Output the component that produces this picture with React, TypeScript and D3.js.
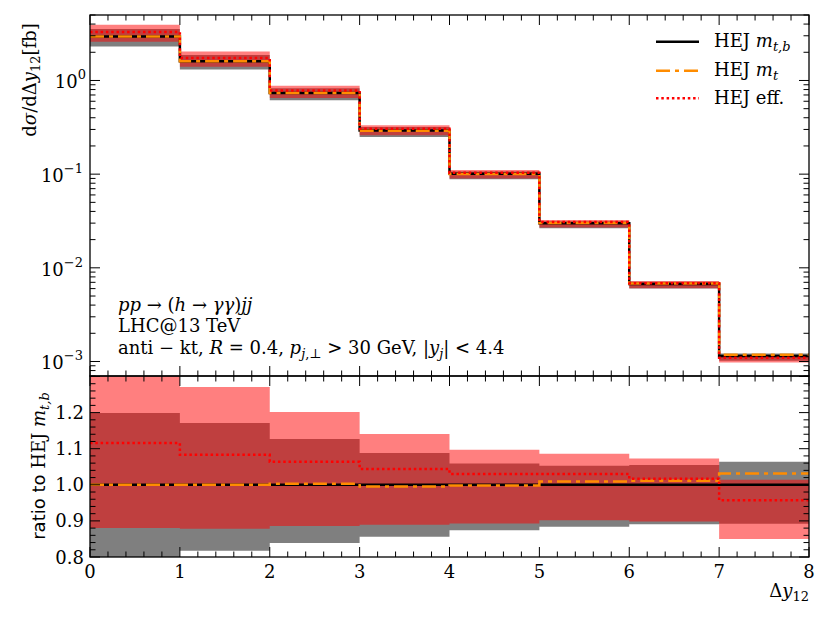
import React from 'react';
import * as d3 from 'd3';

// ---- data ----
const binEdges = [0, 1, 2, 3, 4, 5, 6, 7, 8];
const xTickValues = [0, 1, 2, 3, 4, 5, 6, 7, 8];
const xTickLabels = ['0', '1', '2', '3', '4', '5', '6', '7', '8'];
// HEJ m_{t,b} central values (fb)
const mtbValues = [2.95, 1.6, 0.733, 0.292, 0.1007, 0.0299, 0.00673, 0.001145];
// ratios to HEJ m_{t,b}
const mtRatio = [1.0, 1.0, 1.003, 0.995, 0.998, 1.009, 1.011, 1.031];
const effRatio = [1.116, 1.083, 1.064, 1.044, 1.03, 1.03, 1.017, 0.957];
const mtbBandLow = [0.78, 0.817, 0.839, 0.856, 0.874, 0.884, 0.891, 0.892];
const mtbBandHigh = [1.199, 1.171, 1.127, 1.088, 1.059, 1.053, 1.055, 1.064];
const effBandLow = [0.88, 0.878, 0.886, 0.889, 0.893, 0.902, 0.898, 0.85];
const effBandHigh = [1.33, 1.271, 1.202, 1.141, 1.097, 1.086, 1.073, 1.014];
const ratioTickValues = [0.8, 0.9, 1.0, 1.1, 1.2];
const ratioTickLabels = ['0.8', '0.9', '1.0', '1.1', '1.2'];
const logTickExponents = [0, -1, -2, -3];
const legendLabels = ['HEJ', 'HEJ', 'HEJ eff.'];

const SERIF = "'DejaVu Serif', 'Liberation Serif', serif";
const SANS = "'DejaVu Sans', sans-serif";

export default function App() {
  const W = 830, H = 623;
  const L = 90, R = 809;
  const topY0 = 15, topY1 = 376;
  const botY0 = 376, botY1 = 557;

  const x = d3.scaleLinear().domain([0, 8]).range([L, R]);
  const yTop = d3.scaleLog().domain([7e-4, 5]).range([topY1, topY0]);
  const yBot = d3.scaleLinear().domain([0.8, 1.3]).range([botY1, botY0 + 0.5]);

  const n = mtbValues.length;
  const pts = (vals: number[]) => binEdges.map((e, i) => ({ x: e, v: vals[Math.min(i, n - 1)] }));

  const lineTop = d3.line<{ x: number; v: number }>().x(d => x(d.x)).y(d => yTop(d.v)).curve(d3.curveStepAfter);
  const lineBot = d3.line<{ x: number; v: number }>().x(d => x(d.x)).y(d => yBot(d.v)).curve(d3.curveStepAfter);
  type BP = { x: number; lo: number; hi: number };
  const bandPts = (lo: number[], hi: number[]): BP[] => binEdges.map((e, i) => {
    const k = Math.min(i, n - 1);
    return { x: e, lo: lo[k], hi: hi[k] };
  });
  const areaTop = d3.area<BP>().x(d => x(d.x)).y0(d => yTop(d.lo)).y1(d => yTop(d.hi)).curve(d3.curveStepAfter);
  const areaBot = d3.area<BP>().x(d => x(d.x)).y0(d => yBot(d.lo)).y1(d => yBot(d.hi)).curve(d3.curveStepAfter);

  const mtVals = mtbValues.map((v, i) => v * mtRatio[i]);
  const effVals = mtbValues.map((v, i) => v * effRatio[i]);
  const mtbBandAbsLo = mtbValues.map((v, i) => v * mtbBandLow[i]);
  const mtbBandAbsHi = mtbValues.map((v, i) => v * mtbBandHigh[i]);
  const effBandAbsLo = mtbValues.map((v, i) => v * effBandLow[i]);
  const effBandAbsHi = mtbValues.map((v, i) => v * effBandHigh[i]);
  const ones = mtbValues.map(() => 1);

  const MAJ = 10, MIN = 5.5;
  const lw = 2.5;
  const dashDot = '14,5,4,5';
  const dotted = '2.5,2.8';

  // ticks
  const xMinor = d3.range(0, 8.0001, 0.2).filter(v => Math.abs(v - Math.round(v)) > 1e-6);
  const logMinor: number[] = [];
  for (let e = -4; e <= 0; e++) for (let m = 2; m <= 9; m++) {
    const v = m * Math.pow(10, e);
    if (v >= 7e-4 && v <= 5) logMinor.push(v);
  }
  const ratioMinor = d3.range(0.8, 1.3001, 0.02).filter(v => Math.abs(v * 10 - Math.round(v * 10)) > 1e-6);
  const ratioMajor = [...ratioTickValues, 1.3];

  const tick = (key: string, x1: number, y1: number, x2: number, y2: number) => (
    <line key={key} x1={x1} y1={y1} x2={x2} y2={y2} stroke="#000" strokeWidth={1} />
  );

  const ticks: React.ReactNode[] = [];
  xTickValues.forEach((v, i) => {
    const px = x(v);
    ticks.push(tick('xt' + i, px, topY0, px, topY0 + MAJ));
    ticks.push(tick('xb' + i, px, topY1, px, topY1 - MAJ));
    ticks.push(tick('xt2' + i, px, botY0, px, botY0 + MAJ));
    ticks.push(tick('xb2' + i, px, botY1, px, botY1 - MAJ));
  });
  xMinor.forEach((v, i) => {
    const px = x(v);
    ticks.push(tick('mxt' + i, px, topY0, px, topY0 + MIN));
    ticks.push(tick('mxb' + i, px, topY1, px, topY1 - MIN));
    ticks.push(tick('mxt2' + i, px, botY0, px, botY0 + MIN));
    ticks.push(tick('mxb2' + i, px, botY1, px, botY1 - MIN));
  });
  logTickExponents.forEach((e, i) => {
    const py = yTop(Math.pow(10, e));
    ticks.push(tick('ly' + i, L, py, L + MAJ, py));
    ticks.push(tick('ry' + i, R, py, R - MAJ, py));
  });
  logMinor.forEach((v, i) => {
    const py = yTop(v);
    ticks.push(tick('mly' + i, L, py, L + MIN, py));
    ticks.push(tick('mry' + i, R, py, R - MIN, py));
  });
  ratioMajor.forEach((v, i) => {
    const py = yBot(v);
    ticks.push(tick('lr' + i, L, py, L + MAJ, py));
    ticks.push(tick('rr' + i, R, py, R - MAJ, py));
  });
  ratioMinor.forEach((v, i) => {
    const py = yBot(v);
    ticks.push(tick('mlr' + i, L, py, L + MIN, py));
    ticks.push(tick('mrr' + i, R, py, R - MIN, py));
  });

  const FS = 18, SUB = 13;

  return (
    <svg width={W} height={H} viewBox={`0 0 ${W} ${H}`} style={{ display: 'block', position: 'absolute', left: 0, top: 0, background: '#fff' }}>
      <defs>
        <clipPath id="clipTop"><rect x={L} y={topY0} width={R - L} height={topY1 - topY0} /></clipPath>
        <clipPath id="clipBot"><rect x={L} y={botY0} width={R - L} height={botY1 - botY0} /></clipPath>
      </defs>
      <rect x={0} y={0} width={W} height={H} fill="#fff" />

      {/* upper panel */}
      <g clipPath="url(#clipTop)">
        <path d={areaTop(bandPts(mtbBandAbsLo, mtbBandAbsHi)) || ''} fill="#000" fillOpacity={0.5} />
        <path d={areaTop(bandPts(effBandAbsLo, effBandAbsHi)) || ''} fill="#ff0000" fillOpacity={0.5} />
        <path d={lineTop(pts(mtbValues)) || ''} fill="none" stroke="#000" strokeWidth={lw} />
        <path d={lineTop(pts(mtVals)) || ''} fill="none" stroke="#ff8c00" strokeWidth={lw} strokeDasharray={dashDot} />
        <path d={lineTop(pts(effVals)) || ''} fill="none" stroke="#ff0000" strokeWidth={lw} strokeDasharray={dotted} />
      </g>

      {/* lower panel */}
      <g clipPath="url(#clipBot)">
        <path d={areaBot(bandPts(mtbBandLow, mtbBandHigh)) || ''} fill="#000" fillOpacity={0.5} />
        <path d={areaBot(bandPts(effBandLow, effBandHigh)) || ''} fill="#ff0000" fillOpacity={0.5} />
        <path d={lineBot(pts(ones)) || ''} fill="none" stroke="#000" strokeWidth={lw} />
        <path d={lineBot(pts(mtRatio)) || ''} fill="none" stroke="#ff8c00" strokeWidth={lw} strokeDasharray={dashDot} />
        <path d={lineBot(pts(effRatio)) || ''} fill="none" stroke="#ff0000" strokeWidth={lw} strokeDasharray={dotted} />
      </g>

      {ticks}
      <rect x={L} y={topY0} width={R - L} height={topY1 - topY0} fill="none" stroke="#000" strokeWidth={1.3} />
      <rect x={L} y={botY0} width={R - L} height={botY1 - botY0} fill="none" stroke="#000" strokeWidth={1.3} />

      <g fontFamily={SERIF} fontSize={FS} fill="#000">
        {logTickExponents.map((e, i) => (
          <text key={'lt' + i} x={e === 0 ? 86 : 83} y={yTop(Math.pow(10, e)) + 8} textAnchor="end">
            10<tspan dy={-9} fontSize={SUB}>{e === 0 ? '0' : '\u2212' + String(-e)}</tspan>
          </text>
        ))}
        {ratioTickValues.map((v, i) => (
          <text key={'rt' + i} x={84} y={yBot(v) + 6.5} textAnchor="end">{ratioTickLabels[i]}</text>
        ))}
        {xTickValues.map((v, i) => (
          <text key={'xl' + i} x={x(v)} y={578} textAnchor="middle">{xTickLabels[i]}</text>
        ))}
        <text x={809} y={597} textAnchor="end">
          Δ<tspan fontStyle="italic">y</tspan><tspan dy={4} fontSize={SUB}>12</tspan>
        </text>
        <text transform="translate(36,80) rotate(-90)" textAnchor="middle">
          d<tspan fontStyle="italic">σ</tspan>/dΔ<tspan fontStyle="italic">y</tspan><tspan dy={4} fontSize={SUB}>12</tspan><tspan dy={-4}>[fb]</tspan>
        </text>
        <text transform="translate(45,466) rotate(-90)" textAnchor="middle">
          <tspan fontFamily={SANS} fontSize={18}>ratio to </tspan>HEJ <tspan fontStyle="italic">m</tspan><tspan dy={4} fontSize={SUB} fontStyle="italic">t,b</tspan>
        </text>

        <text x={118} y={311}>
          <tspan fontStyle="italic">pp</tspan> → (<tspan fontStyle="italic">h</tspan> → <tspan fontStyle="italic">γγ</tspan>)<tspan fontStyle="italic">jj</tspan>
        </text>
        <text x={118} y={332}>LHC@13 TeV</text>
        <text x={118} y={353.5}>
          anti − kt, <tspan fontStyle="italic">R</tspan> = 0.4, <tspan fontStyle="italic">p</tspan><tspan dy={4} fontSize={SUB}><tspan fontStyle="italic">j</tspan>,⊥</tspan><tspan dy={-4}> &gt; 30 GeV, |</tspan><tspan fontStyle="italic">y</tspan><tspan dy={4} fontSize={SUB} fontStyle="italic">j</tspan><tspan dy={-4}>| &lt; 4.4</tspan>
        </text>

        <line x1={656} x2={699} y1={41.7} y2={41.7} stroke="#000" strokeWidth={lw} />
        <text x={714} y={47}>{legendLabels[0]} <tspan fontStyle="italic">m</tspan><tspan dy={4} fontSize={SUB} fontStyle="italic">t,b</tspan></text>
        <line x1={656} x2={699} y1={70.7} y2={70.7} stroke="#ff8c00" strokeWidth={lw} strokeDasharray={dashDot} />
        <text x={714} y={75.5}>{legendLabels[1]} <tspan fontStyle="italic">m</tspan><tspan dy={4} fontSize={SUB} fontStyle="italic">t</tspan></text>
        <line x1={656} x2={699} y1={98.3} y2={98.3} stroke="#ff0000" strokeWidth={lw} strokeDasharray={dotted} />
        <text x={714} y={103.5}>{legendLabels[2]}</text>
      </g>
    </svg>
  );
}
